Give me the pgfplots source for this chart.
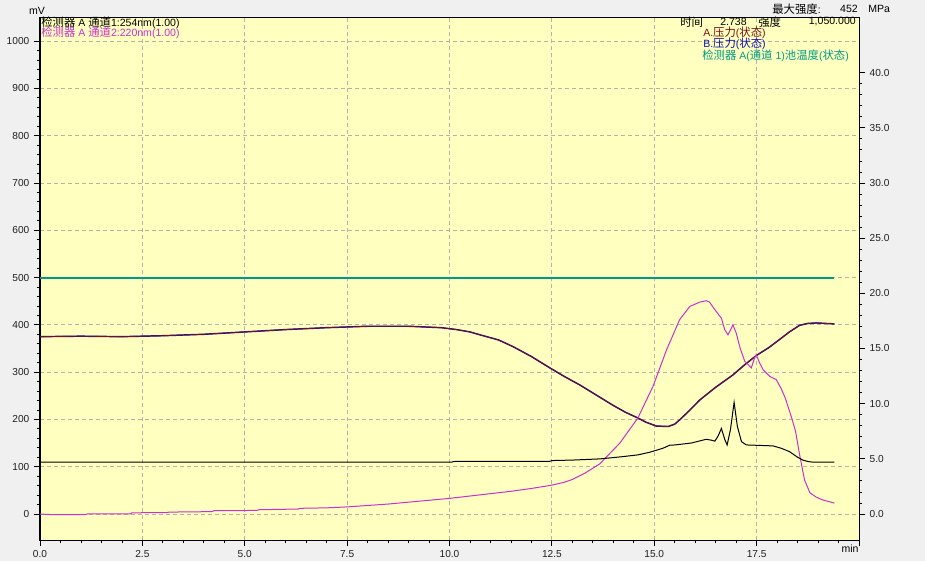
\documentclass[border=0pt]{standalone}
\usepackage{fontspec}
\setmainfont{Liberation Sans}
\newfontfamily\cjk{Noto Sans CJK SC}[Scale=1.08]
\usepackage{pgfplots}
\pgfplotsset{compat=1.18}
\newcommand\zh[1]{{\cjk #1}}
\definecolor{plotbg}{HTML}{FFFFC0}
\definecolor{outerbg}{HTML}{F0F0F0}
\definecolor{chtwo}{HTML}{CC30CC}
\definecolor{pressA}{HTML}{7A1010}
\definecolor{pressB}{HTML}{1010B0}
\definecolor{tealc}{HTML}{009A84}
\definecolor{gridc}{HTML}{B4B4AA}
\definecolor{tickc}{HTML}{202020}
\newcommand\sfont{\fontsize{7.6}{9}\selectfont}
\newcommand\lfont{\fontsize{7.9}{9}\selectfont}

% detector A, channel 1 (254 nm)
\pgfplotstableread{
t v
0 109.5
10.05 109.5
10.1 111
12.45 111.5
12.5 113
13.0 114
13.67 116.5
14.2 121
14.6 125
14.89 130.6
15.21 139
15.38 145.4
15.5 146
15.9 150
16.27 158
16.4 156
16.48 154
16.56 165
16.64 181
16.72 158
16.78 146
16.86 178
16.95 236
17.03 185
17.13 153
17.25 146
17.6 145
17.9 144
18.1 139
18.3 132
18.5 120
18.63 114
18.75 111
18.88 109.5
19.4 109.5
}\chone

% detector A, channel 2 (220 nm)
\pgfplotstableread{
t v
0 0
0.3 -1.5
1.1 -1.5
1.15 0
2.2 0
2.25 2.5
3.1 3
3.15 4
4.2 5
4.25 7
5.3 7.5
5.35 9
6.3 10.5
6.35 12
7.0 13
7.5 15
8.0 18
8.5 21
9.0 25
9.5 29
10.0 33
10.5 38
11.0 43
11.5 48
12.0 54
12.5 61
12.8 67
13.0 73
13.3 86
13.67 106
14.16 150
14.6 203
14.97 270
15.3 347
15.62 411
15.87 439
16.11 448
16.27 451
16.35 448
16.48 432
16.64 414
16.72 390
16.8 379
16.88 392
16.92 400
17.0 383
17.1 350
17.21 323
17.37 309
17.45 330
17.49 337
17.57 320
17.66 305
17.82 291
17.98 284
18.1 265
18.2 245
18.35 205
18.45 175
18.55 125
18.67 72
18.8 45
18.95 36
19.1 30
19.4 23
}\chtwo

% pump pressure (plotted on the mV scale)
\pgfplotstableread{
t v
0 375
1 376
2 375
3 377
4 380
5 385
6 390
7 394
8 397
9 397
9.8 394
10.17 390
10.5 385
10.74 379
11.2 368
11.55 354
12.0 333
12.45 309
12.8 291
13.18 273
13.67 247
13.99 230
14.3 215
14.6 203
14.8 194
15.05 186
15.34 185
15.5 190
15.62 199
15.85 218
16.11 241
16.5 268
16.92 294
17.2 315
17.49 335
17.8 352
18.06 369
18.3 385
18.55 399
18.75 403
18.96 404
19.4 402
}\press

\begin{document}
\begin{tikzpicture}
\path[use as bounding box, fill=outerbg] (0,0) rectangle (693.75pt,420.75pt);

\begin{axis}[
    at={(30pt,15.75pt)}, anchor=south west,
    scale only axis, width=614.25pt, height=391.9pt,
    xmin=0, xmax=20, ymin=-55, ymax=1050,
    axis background/.style={fill=plotbg},
    xtick={0,2.5,...,20},
    xticklabels={0.0,2.5,5.0,7.5,10.0,12.5,15.0,17.5,{}},
    ytick={0,100,...,1000},
    minor x tick num=4, minor y tick num=4,
    xtick pos=bottom, ytick pos=left, tick align=outside,
    major tick length=4.5pt, minor tick length=2.25pt,
    tick style={black, line width=0.6pt},
    grid=major,
    major grid style={gridc, line width=0.6pt, dash pattern=on 3pt off 2.25pt},
    axis line style={line width=0.75pt},
    ticklabel style={font=\sfont, text=tickc},
    /pgf/number format/assume math mode=true,
    yticklabel style={/pgf/number format/.cd, fixed, 1000 sep={}},
]
\addplot[draw=tealc, line width=0.8pt] coordinates {(0,499) (19.4,499)};
\addplot[draw=pressB, line width=1.1pt] table[x=t, y=v] {\press};
\addplot[draw=pressA, line width=0.6pt] table[x=t, y=v] {\press};
\addplot[draw=chtwo, line width=0.75pt] table[x=t, y=v] {\chtwo};
\addplot[draw=black, line width=0.75pt] table[x=t, y=v] {\chone};
\end{axis}

\begin{axis}[
    at={(30pt,15.75pt)}, anchor=south west,
    scale only axis, width=614.25pt, height=391.9pt,
    xmin=0, xmax=20, ymin=-2.357, ymax=45,
    axis y line*=right, axis x line=none,
    ytick={0,5,...,40}, minor y tick num=4,
    tick align=outside,
    major tick length=4.5pt, minor tick length=2.25pt,
    tick style={black, line width=0.6pt},
    axis line style={line width=0.75pt},
    ticklabel style={font=\sfont, text=tickc},
    /pgf/number format/assume math mode=true,
    yticklabel style={/pgf/number format/.cd, fixed, fixed zerofill, precision=1},
]
\end{axis}

\begin{scope}[x=0.75pt, y=-0.75pt, yshift=420.75pt, every node/.style={inner sep=0pt, font=\lfont}]
\node[anchor=center] at (37,11) {mV};
\node[anchor=center] at (850,549) {min};
\node[anchor=west] at (41,22.5) {\zh{检测器} A \zh{通道}1:254nm(1.00)};
\node[anchor=west, text=chtwo] at (41,33) {\zh{检测器} A \zh{通道}2:220nm(1.00)};
\node[anchor=west] at (772,9) {\zh{最大强度}:};
\node[anchor=east] at (858,9) {452};
\node[anchor=west] at (868,9) {MPa};
\node[anchor=west] at (680,22) {\zh{时间}};
\node[anchor=west] at (720,22) {2.738};
\node[anchor=west] at (758,22) {\zh{强度}};
\node[anchor=east] at (856,22) {1,050.000};
\node[anchor=west, text=pressA] at (703,33) {A.\zh{压力}(\zh{状态})};
\node[anchor=west, text=pressB] at (703,44) {B.\zh{压力}(\zh{状态})};
\node[anchor=west, text=tealc] at (702,56) {\zh{检测器} A(\zh{通道} 1)\zh{池温度}(\zh{状态})};
\end{scope}
\end{tikzpicture}
\end{document}
